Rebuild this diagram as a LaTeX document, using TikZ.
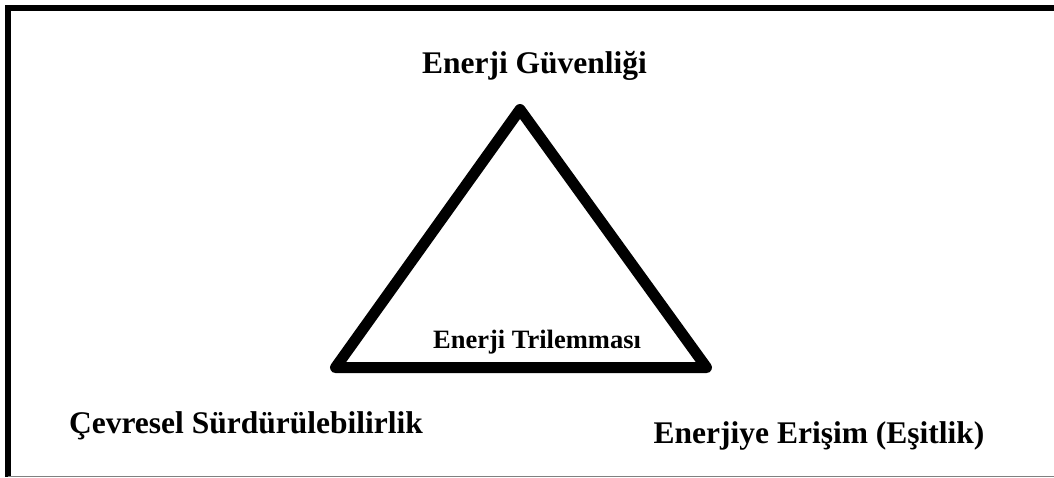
\documentclass[tikz,border=0pt]{standalone}
\usepackage{fontspec}
\setmainfont{Liberation Serif}
\begin{document}
\begin{tikzpicture}[x=1pt, y=-1pt,
    etiket/.style={font=\bfseries\fontsize{31.5}{36}\selectfont, anchor=base, inner sep=0pt},
    kenar/.style={line width=11pt, line join=round, line cap=round}]

  % Sayfa boyutu (piksel = pt)
  \useasboundingbox (0,0) rectangle (1054,477);

  % Cerceve: kalin ust ve sol, ince gri alt
  \coordinate (cUL) at (8,5);
  \coordinate (cUR) at (1054,8);
  \coordinate (cLL) at (8,477);
  \draw[line width=6pt] (5,8) -- (cUR);
  \draw[line width=6pt] (cUL) -- (cLL);
  \draw[gray, line width=1pt] (8,476) -- (1054,476);

  % ==============================================
  % Ucgen
  % ==============================================
  \coordinate (tepe) at (520,109.5);
  \coordinate (sol) at (335.5,367.5);
  \coordinate (sag) at (706.5,367.5);
  \draw[kenar] (tepe) -- (sag) -- (sol) -- cycle;

  % Ic etiket
  \node[etiket, font=\bfseries\fontsize{26.5}{30}\selectfont] (trilemma) at (537,348) {Enerji Trilemması};

  % ==============================================
  % Kose etiketleri
  % ==============================================
  \node[etiket] (guvenlik) at (534.5,73) {Enerji Güvenliği};
  \node[etiket] (cevre) at (246,433) {Çevresel Sürdürülebilirlik};
  \node[etiket] (erisim) at (819,443) {Enerjiye Erişim (Eşitlik)};

\end{tikzpicture}
\end{document}
